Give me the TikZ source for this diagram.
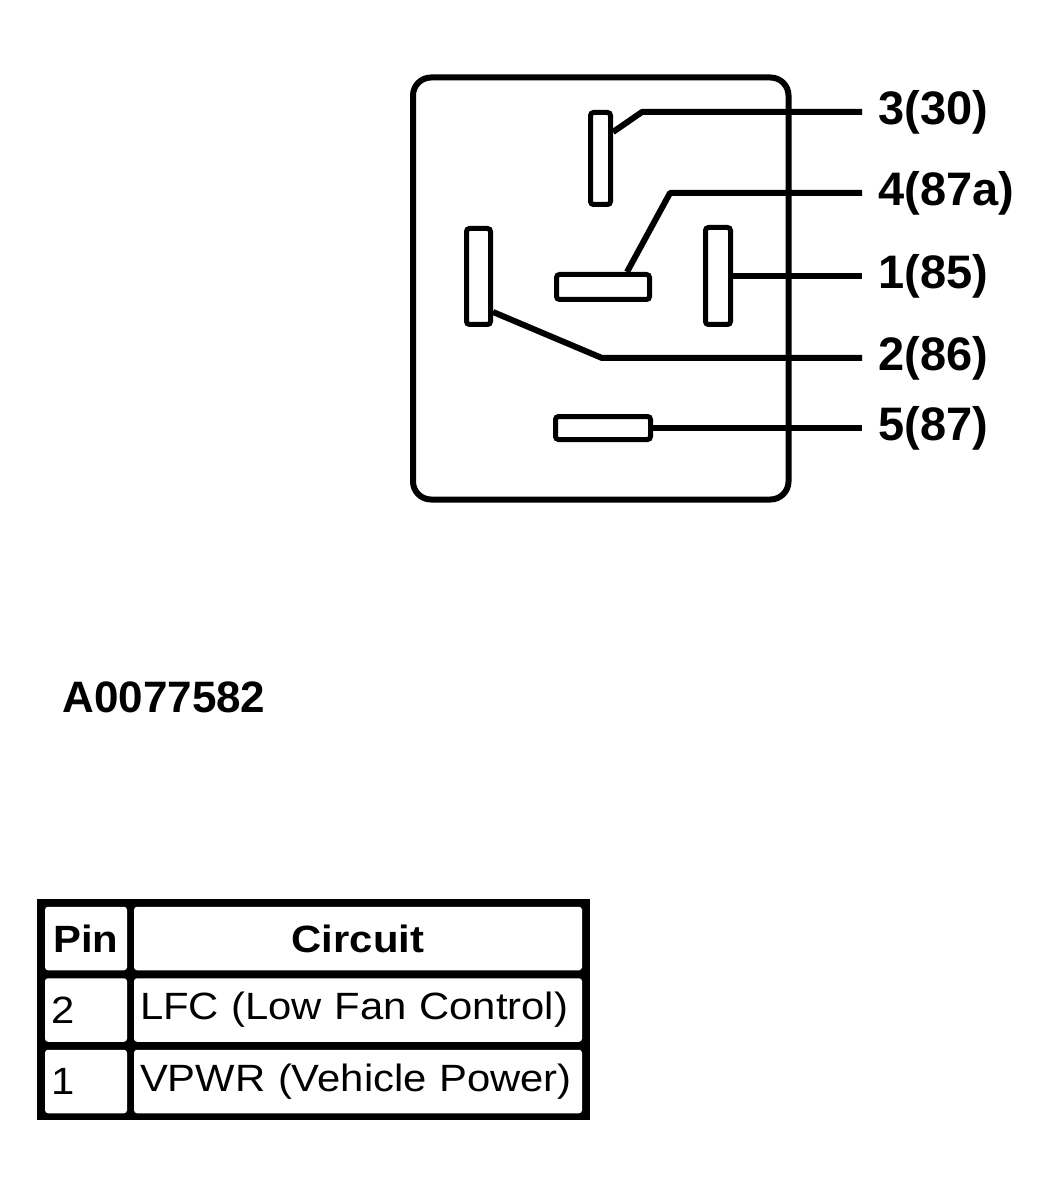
\documentclass[tikz,border=0pt]{standalone}
\usepackage{fontspec}
\setmainfont{Liberation Sans}
\newfontfamily\tablefont[FakeStretch=1.1]{Liberation Sans}
\begin{document}
\begin{tikzpicture}[x=0.5pt,y=-0.5pt,
		pin/.style={draw,line width=2.5pt,rounded corners=1.5pt,inner sep=0pt},
		wire/.style={line width=3pt,line join=round},
		pinlabel/.style={anchor=west,inner xsep=8pt,inner ysep=0pt,font=\fontsize{23.5}{26}\selectfont\bfseries},
		cell/.style={fill=white,rounded corners=1.5pt,inner ysep=0pt,minimum height=31.75pt,font=\tablefont\fontsize{19}{22}\selectfont}]
	\useasboundingbox (0,0) rectangle (1049,1197);
	% relay housing
	\draw[line width=3pt,rounded corners=9pt] (413,77.5) rectangle (788.5,499.5);
	% terminals
	\node[pin,minimum width=10pt,minimum height=46pt] (p3) at (600.5,158.5) {};
	\node[pin,minimum width=46.5pt,minimum height=12.5pt] (p4) at (603,287) {};
	\node[pin,minimum width=12.5pt,minimum height=48.5pt] (p1) at (718,276) {};
	\node[pin,minimum width=12pt,minimum height=48pt] (p2) at (478.5,276.5) {};
	\node[pin,minimum width=47.5pt,minimum height=11.5pt] (p5) at (603,428) {};
	% labels
	\node[pinlabel] (l3) at (862,112) {3(30)};
	\node[pinlabel] (l4) at (862,193) {4(87a)};
	\node[pinlabel] (l1) at (862,276) {1(85)};
	\node[pinlabel] (l2) at (862,358) {2(86)};
	\node[pinlabel] (l5) at (862,428) {5(87)};
	\coordinate (k3) at (642,112);
	\coordinate (k4) at (670,193);
	\coordinate (k2) at (602,358);
	\draw[wire] ([yshift=13.25pt]p3.east) -- (k3) -- (l3.west);
	\draw[wire] ([xshift=12pt]p4.north) -- (k4) -- (l4.west);
	\draw[wire] (p1.east) -- (l1.west);
	\draw[wire] ([yshift=-17.75pt]p2.east) -- (k2) -- (l2.west);
	\draw[wire] (p5.east) -- (l5.west);
	\node[anchor=base west,inner sep=0pt,font=\fontsize{22}{24}\selectfont\bfseries] (fig) at (62,712) {A0077582};
	% pin table
	\fill (37,899) rectangle (590,1120);
	\node[cell,minimum width=41pt,font=\tablefont\fontsize{19}{22}\selectfont\bfseries] (hpin) at (86,938.5) {Pin};
	\node[cell,minimum width=224pt,font=\tablefont\fontsize{19}{22}\selectfont\bfseries] (hcirc) at (358,938.5) {Circuit};
	\node[cell,inner xsep=3pt,text width=35pt,align=left] (pin2) at (86,1010) {2};
	\node[cell,inner xsep=3pt,text width=218pt,align=left] (circ2) at (358,1010) {LFC (Low Fan Control)};
	\node[cell,inner xsep=3pt,text width=35pt,align=left] (pin1) at (86,1081.5) {1};
	\node[cell,inner xsep=3pt,text width=218pt,align=left] (circ1) at (358,1081.5) {VPWR (Vehicle Power)};
\end{tikzpicture}
\end{document}
